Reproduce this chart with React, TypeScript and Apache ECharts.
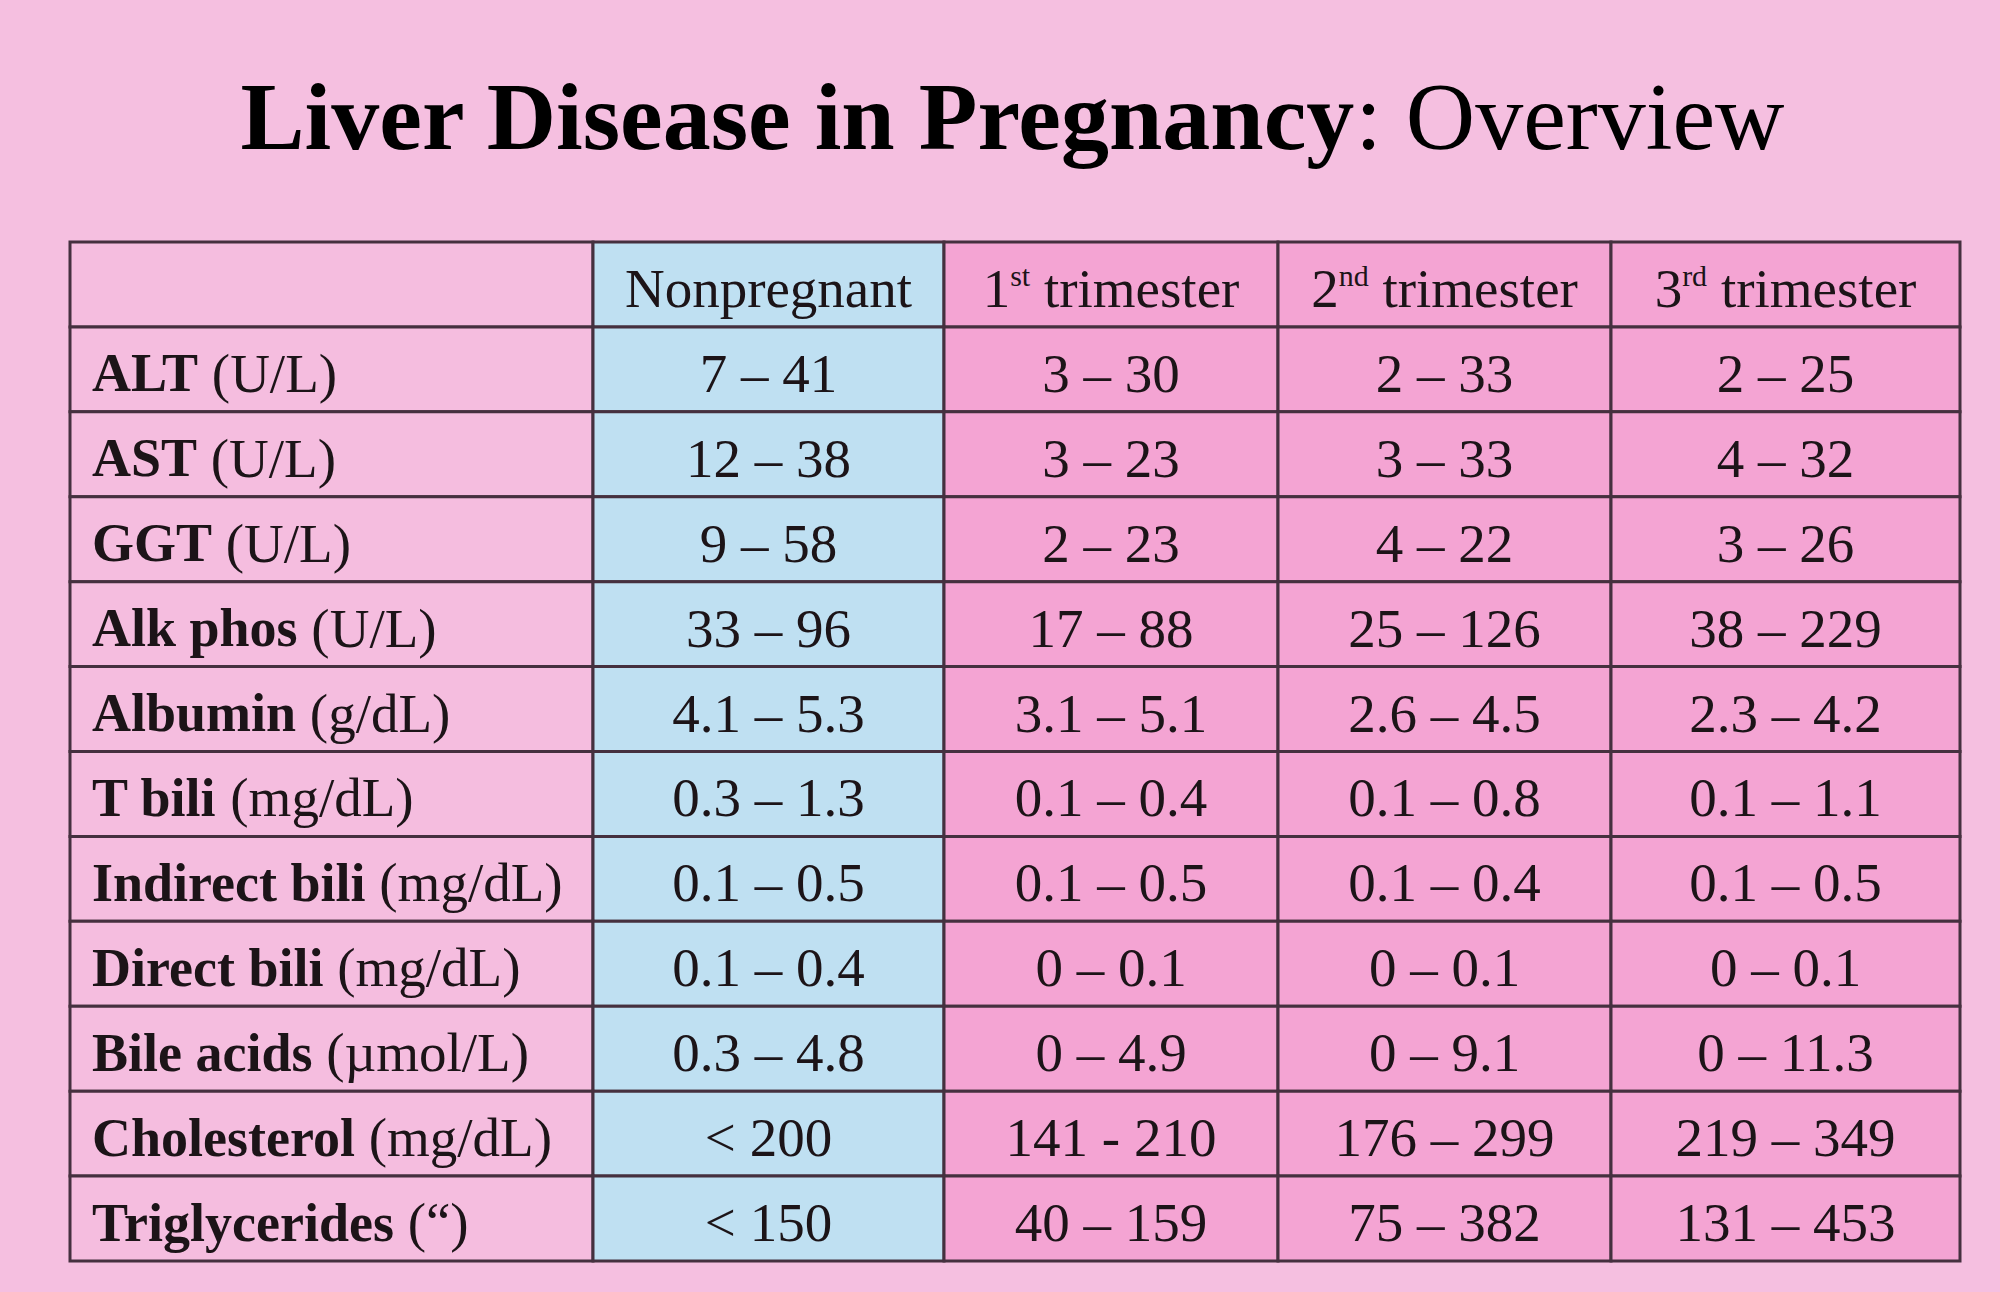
import React, { useEffect, useRef } from "react";
import * as echarts from "echarts";

// ---- data ----
const columnHeaders = ["", "Nonpregnant", "1{sup|st} trimester", "2{sup|nd} trimester", "3{sup|rd} trimester"];
const analytes = ["ALT", "AST", "GGT", "Alk phos", "Albumin", "T bili", "Indirect bili", "Direct bili", "Bile acids", "Cholesterol", "Triglycerides"];
const units = ["(U/L)", "(U/L)", "(U/L)", "(U/L)", "(g/dL)", "(mg/dL)", "(mg/dL)", "(mg/dL)", "(µmol/L)", "(mg/dL)", "(“)"];
const nonpregnant = ["7 – 41", "12 – 38", "9 – 58", "33 – 96", "4.1 – 5.3", "0.3 – 1.3", "0.1 – 0.5", "0.1 – 0.4", "0.3 – 4.8", "< 200", "< 150"];
const trimester1 = ["3 – 30", "3 – 23", "2 – 23", "17 – 88", "3.1 – 5.1", "0.1 – 0.4", "0.1 – 0.5", "0 – 0.1", "0 – 4.9", "141 - 210", "40 – 159"];
const trimester2 = ["2 – 33", "3 – 33", "4 – 22", "25 – 126", "2.6 – 4.5", "0.1 – 0.8", "0.1 – 0.4", "0 – 0.1", "0 – 9.1", "176 – 299", "75 – 382"];
const trimester3 = ["2 – 25", "4 – 32", "3 – 26", "38 – 229", "2.3 – 4.2", "0.1 – 1.1", "0.1 – 0.5", "0 – 0.1", "0 – 11.3", "219 – 349", "131 – 453"];

// ---- layout (table units) ----
const COL_EDGES = [0, 523, 874, 1208, 1541, 1890];
const FONT = "'Liberation Serif', 'Times New Roman', serif";
const BG = "#f5bfe0";
const LABEL_FILL = "#f5bddf";
const BLUE_FILL = "#bfe0f2";
const PINK_FILL = "#f4a4d3";
const BORDER = "#45303f";
const TEXT = "#1c1418";

export default function App() {
  const ref = useRef<HTMLDivElement>(null);

  useEffect(() => {
    document.body.style.margin = "0";
    const chart = echarts.init(ref.current!, null, { renderer: "svg" });

    const rowKeys = ["header", ...analytes];
    const cells: { c: number; r: number; text: string }[] = [];
    columnHeaders.forEach((h, c) => cells.push({ c, r: 0, text: h }));
    const valueCols = [nonpregnant, trimester1, trimester2, trimester3];
    analytes.forEach((a, i) => {
      cells.push({ c: 0, r: i + 1, text: `{b|${a}} ${units[i]}` });
      valueCols.forEach((col, j) => cells.push({ c: j + 1, r: i + 1, text: col[i] }));
    });

    const rich = {
      b: { fontFamily: FONT, fontWeight: "bold", fontSize: 54, fill: TEXT, color: TEXT },
      sup: { fontFamily: FONT, fontSize: 30, verticalAlign: "top", fill: TEXT, color: TEXT, lineHeight: 30 },
    };

    const option: any = {
      animation: false,
      backgroundColor: BG,
      grid: { left: 70, top: 242, width: 1890, height: 1019 },
      xAxis: { type: "value", min: 0, max: 1890, show: false },
      yAxis: { type: "category", data: rowKeys, inverse: true, show: false },
      graphic: [
        {
          type: "text",
          x: 1012,
          y: 116,
          style: {
            text: "{b|Liver Disease in Pregnancy}{n|: Overview}",
            align: "center",
            verticalAlign: "middle",
            rich: {
              b: { fontFamily: FONT, fontWeight: "bold", fontSize: 96, fill: "#000", color: "#000" },
              n: { fontFamily: FONT, fontSize: 96, fill: "#000", color: "#000" },
            },
          },
        },
      ],
      series: [
        {
          type: "custom",
          encode: { x: 0, y: 1 },
          data: cells.map((d) => [d.c, d.r]),
          renderItem: (params: any, api: any) => {
            const cell = cells[params.dataIndex];
            const c = cell.c;
            const r = cell.r;
            const p0 = api.coord([COL_EDGES[c], r]);
            const p1 = api.coord([COL_EDGES[c + 1], r]);
            const h = api.size([0, 1])[1];
            const x0 = p0[0];
            const x1 = p1[0];
            const yc = p0[1];
            const fill = c === 0 ? LABEL_FILL : c === 1 ? BLUE_FILL : PINK_FILL;
            return {
              type: "group",
              children: [
                {
                  type: "rect",
                  shape: { x: x0, y: yc - h / 2, width: x1 - x0, height: h },
                  style: { fill, stroke: BORDER, lineWidth: 3 },
                },
                {
                  type: "text",
                  style: {
                    text: cell.text,
                    x: c === 0 ? x0 + 22 : (x0 + x1) / 2,
                    y: yc + 4,
                    align: c === 0 ? "left" : "center",
                    verticalAlign: "middle",
                    fontFamily: FONT,
                    fontSize: 55,
                    fill: TEXT,
                    rich,
                  },
                },
              ],
            };
          },
        },
      ],
    };

    chart.setOption(option);
    return () => chart.dispose();
  }, []);

  return (
    <div
      ref={ref}
      style={{ position: "absolute", left: 0, top: 0, width: 2000, height: 1292 }}
    />
  );
}
